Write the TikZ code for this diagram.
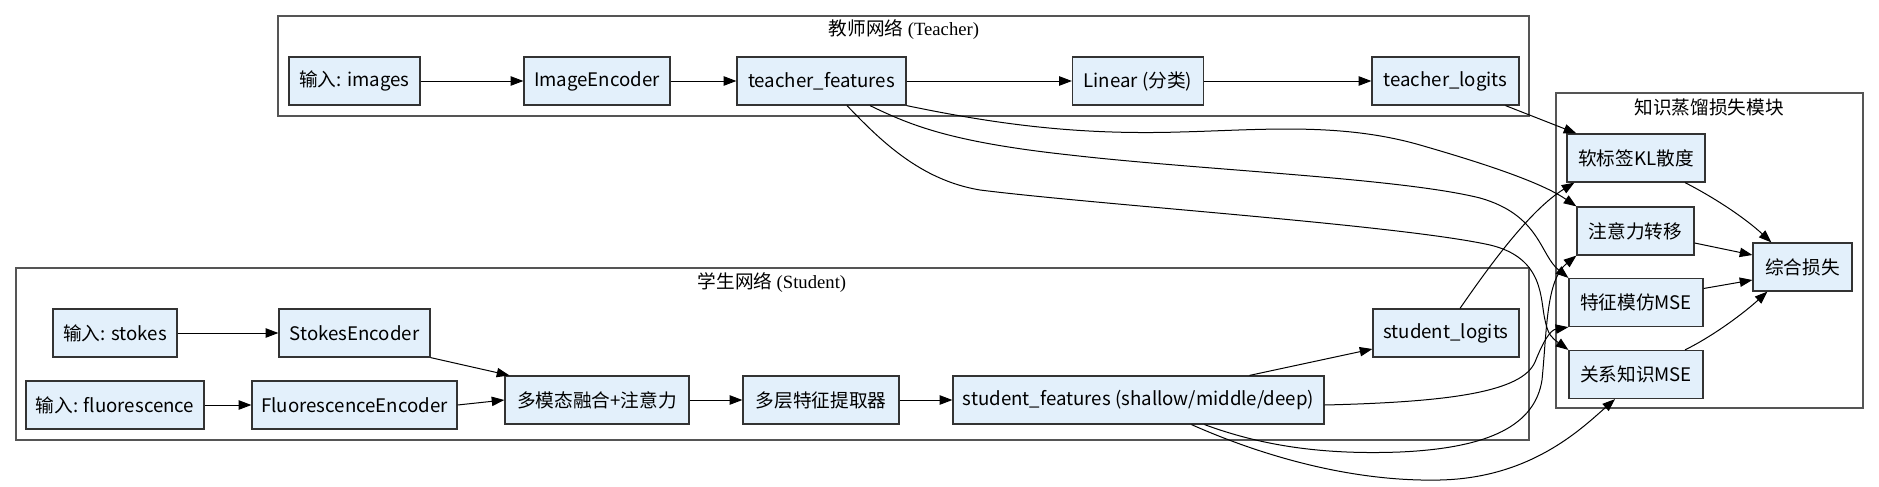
\documentclass[tikz,border=0pt]{standalone}
\usepackage{fontspec}
\setmainfont{Noto Sans CJK SC}
\newfontfamily\serifl{Liberation Serif}
\usetikzlibrary{arrows.meta,calc}
\definecolor{nodefill}{HTML}{E3F0FB}
\definecolor{nodeline}{HTML}{333333}
\definecolor{clline}{HTML}{555555}
\begin{document}
\begin{tikzpicture}[x=0.75pt,y=-0.75pt,
  box/.style={draw=nodeline,fill=nodefill,line width=0.9pt,minimum height=36pt,inner sep=0pt,font=\fontsize{14pt}{17pt}\selectfont},
  cluster/.style={draw=clline,line width=1.1pt,inner sep=0pt},
  ctitle/.style={inner sep=0pt,font=\fontsize{14pt}{16pt}\selectfont},
  edge/.style={-{Triangle[length=9.5pt,width=7pt]},line width=0.75pt,black}]
\useasboundingbox (0,0) rectangle (1879,486);
% clusters
\node[cluster,minimum width=938.25pt,minimum height=75pt] (tcl) at (903.5,66) {};
\node[cluster,minimum width=1134.75pt,minimum height=129pt] (scl) at (772.5,354) {};
\node[cluster,minimum width=230.25pt,minimum height=236.25pt] (lcl) at (1709.5,250.5) {};
\node[ctitle] (ttitle) at (904,30) {教师网络 {\serifl (Teacher)}};
\node[ctitle] (stitle) at (772,283) {学生网络 {\serifl (Student)}};
\node[ctitle] (ltitle) at (1709,107) {知识蒸馏损失模块};
% teacher
\node[box,minimum width=98.25pt] (img) at (354.5,81) {输入: images};
\node[box,minimum width=109.5pt] (ienc) at (597,81) {ImageEncoder};
\node[box,minimum width=126.75pt] (tf) at (821.5,81) {teacher\_features};
\node[box,minimum width=98.25pt] (lin) at (1138,81) {Linear (分类)};
\node[box,minimum width=110.25pt] (tl) at (1445.5,81) {teacher\_logits};
% student
\node[box,minimum width=93pt] (stokes) at (115,333) {输入: stokes};
\node[box,minimum width=113.25pt] (senc) at (354.5,333) {StokesEncoder};
\node[box,minimum width=133.5pt] (fluo) at (115,405) {输入: fluorescence};
\node[box,minimum width=153.75pt] (fenc) at (354.5,405) {FluorescenceEncoder};
\node[box,minimum width=138pt] (fuse) at (597,400) {多模态融合+注意力};
\node[box,minimum width=117pt] (multi) at (821,400) {多层特征提取器};
\node[box,minimum width=278.25pt] (sf) at (1138.5,400) {student\_features (shallow/middle/deep)};
\node[box,minimum width=109.5pt] (sl) at (1446,333) {student\_logits};
% loss
\node[box,minimum width=103.5pt] (kl) at (1636,158) {软标签KL散度};
\node[box,minimum width=87.75pt] (att) at (1635.5,231) {注意力转移};
\node[box,minimum width=100.5pt] (feat) at (1636,302.5) {特征模仿MSE};
\node[box,minimum width=100.5pt] (rel) at (1636,374.5) {关系知识MSE};
\node[box,minimum width=74.25pt] (total) at (1802.5,267) {综合损失};
% straight edges
\draw[edge] (img) -- (ienc);
\draw[edge] (ienc) -- (tf);
\draw[edge] (tf) -- (lin);
\draw[edge] (lin) -- (tl);
\draw[edge] (stokes) -- (senc);
\draw[edge] (fluo) -- (fenc);
\draw[edge] (senc.south east) -- ($(fuse.north west)+(5,0)$);
\draw[edge] (fenc.east) -- (fuse.west);
\draw[edge] (fuse) -- (multi);
\draw[edge] (multi) -- (sf);
\draw[edge] ($(sf.north)+(111,0)$) -- ($(sl.west)+(0,16)$);
% teacher to losses
\draw[edge] (tf.south east) .. controls (1000,125) and (1080,135) .. (1180,132) .. controls (1260,130) and (1340,122) .. (1420,145) .. controls (1500,168) and (1545,185) .. (att.north west);
\draw[edge] ($(tf.south)+(48.5,0)$) .. controls (910,125) and (950,142) .. (1070,155) .. controls (1200,170) and (1400,178) .. (1480,198) .. controls (1540,215) and (1540,255) .. (feat.north west);
\draw[edge] ($(tf.south)+(25.5,0)$) .. controls (880,140) and (920,180) .. (980,190) .. controls (1100,205) and (1400,225) .. (1490,245) .. controls (1545,258) and (1540,300) .. (1545,320) .. controls (1548,335) and (1552,338) .. (rel.north west);
\draw[edge] ($(tl.south)+(60,0)$) -- ($(kl.north west)+(10,0)$);
% student to losses
\draw[edge] ($(sl.north)+(14,0)$) .. controls (1490,265) and (1530,210) .. ($(kl.south west)+(8,0)$);
\draw[edge] ($(sf.east)+(0,5)$) .. controls (1450,402) and (1522,392) .. (1535,362) .. controls (1543,342) and (1550,330) .. (feat.south west);
\draw[edge] ($(sf.south)+(66,0)$) .. controls (1260,445) and (1320,455) .. (1400,452) .. controls (1490,448) and (1535,425) .. (1542,380) .. controls (1547,330) and (1546,280) .. (att.south west);
\draw[edge] ($(sf.south)+(53,0)$) .. controls (1260,455) and (1350,482) .. (1440,480) .. controls (1530,478) and (1580,430) .. ($(rel.south)+(-21,0)$);
% losses to total
\draw[edge] ($(kl.south)+(49,0)$) .. controls (1715,198) and (1745,218) .. ($(total.north west)+(19,0)$);
\draw[edge] ($(att.east)+(0,12)$) -- ($(total.west)+(0,-12)$);
\draw[edge] ($(feat.east)+(0,-14)$) -- ($(total.west)+(0,13)$);
\draw[edge] ($(rel.north)+(49,0)$) .. controls (1715,335) and (1745,312) .. ($(total.south west)+(15,0)$);
\end{tikzpicture}
\end{document}
